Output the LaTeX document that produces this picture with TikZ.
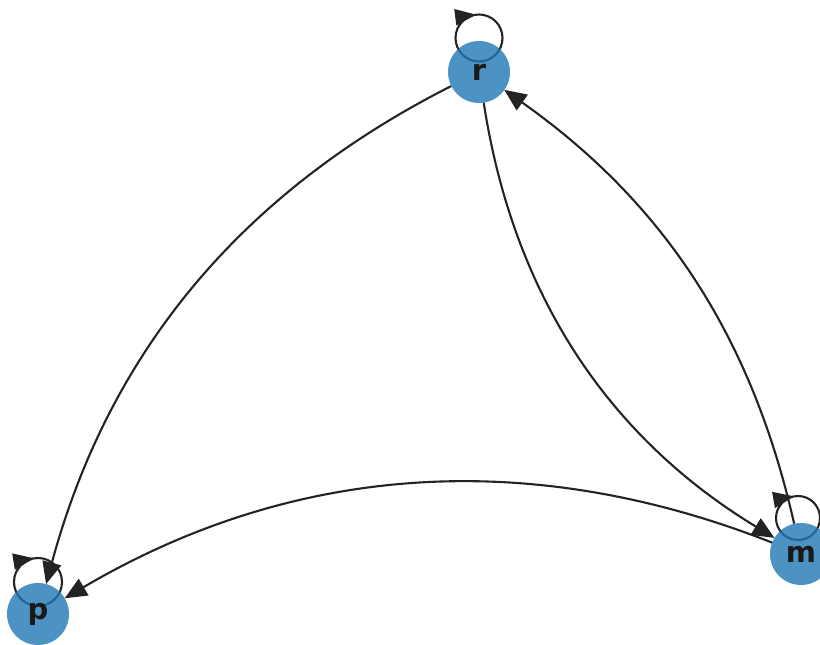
\documentclass[tikz,border=0pt]{standalone}
\usepackage{fontspec}
\newfontfamily\labfont{DejaVu Sans}
\usetikzlibrary{arrows.meta,calc}
\definecolor{nodeblue}{RGB}{31,119,180}
\definecolor{edgegray}{RGB}{35,35,35}
\pgfdeclarelayer{bg}
\pgfsetlayers{bg,main}
\tikzset{
  vert/.style={circle, minimum size=62pt, inner sep=0pt, outer sep=0pt,
    fill=nodeblue, fill opacity=0.8, text opacity=1,
    font=\labfont\bfseries\fontsize{29}{29}\selectfont, text=black!90},
  edgeline/.style={draw=edgegray, line width=2.1pt,
    -{Triangle[length=22pt,width=19pt]}},
  loopline/.style={draw=edgegray, line width=2.1pt},
  looptip/.style={draw=edgegray, line width=2.1pt,
    -{Triangle[length=21pt,width=16pt]}}
}
\begin{document}
\begin{tikzpicture}[x=1pt,y=1pt]
\useasboundingbox (0,0) rectangle (820,645);
\node[vert] (r) at (479,573) {r};
\node[vert] (p) at (38,31) {p};
\node[vert] (m) at (801,91) {m};
\coordinate (rl) at (479,607);
\coordinate (pl) at (38,63);
\coordinate (ml) at (798,127);
\begin{pgfonlayer}{bg}
  \draw[edgeline] (r) to[bend right=24, looseness=0.95] (p);
  \draw[edgeline] (r) to[bend right=25, looseness=0.95] (m);
  \draw[edgeline] (m) to[bend right=21, looseness=0.95] (r);
  \draw[edgeline] (m) to[bend right=26, looseness=0.95] (p);
  \draw[loopline] (rl) circle (23.5);
  \draw[loopline] (pl) circle (24);
  \draw[loopline] (ml) circle (22);
  \draw[looptip] ($(rl)+(150:23.5)$) arc (150:97:23.5);
  \draw[looptip] ($(pl)+(150:24)$) arc (150:99:24);
  \draw[looptip] ($(ml)+(150:22)$) arc (150:100:22);
\end{pgfonlayer}
\end{tikzpicture}
\end{document}
